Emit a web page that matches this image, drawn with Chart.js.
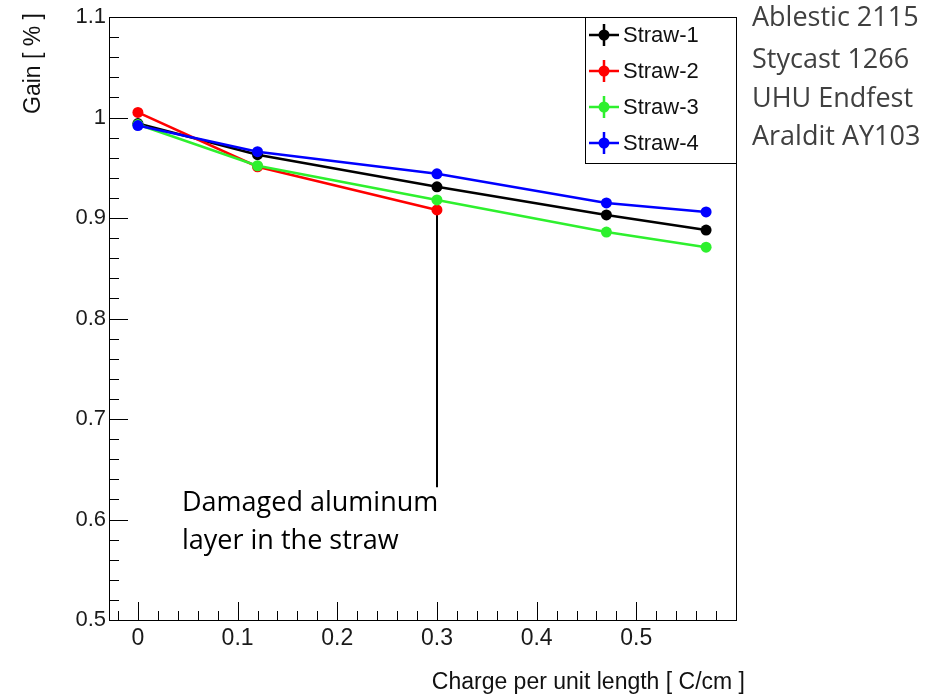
<!DOCTYPE html>
<html>
<head>
<meta charset="utf-8">
<script src="https://cdn.jsdelivr.net/npm/chart.js@4/dist/chart.umd.min.js"></script>
<style>
  html, body { margin: 0; padding: 0; background: #fff; }
  #wrap { width: 933px; height: 695px; }
</style>
</head>
<body>
<div id="wrap"><canvas id="chart" width="933" height="695"></canvas></div>
<script>
// charge per unit length [C/cm]
const charge = [0, 0.12, 0.3, 0.47, 0.57];

// relative gain per straw
const straw1 = [0.994, 0.963, 0.931, 0.903, 0.888];
const straw2 = [1.005, 0.951, 0.908];
const straw3 = [0.993, 0.952, 0.918, 0.886, 0.871];
const straw4 = [0.992, 0.966, 0.944, 0.915, 0.906];

const strawNames = ['Straw-1', 'Straw-2', 'Straw-3', 'Straw-4'];
const strawColors = ['#000000', '#ff0000', '#2ef02e', '#0000ff'];
const glueNames = ['Ablestic 2115', 'Stycast 1266', 'UHU Endfest', 'Araldit AY103'];

const xTicks = [0, 0.1, 0.2, 0.3, 0.4, 0.5];
const yTicks = [0.5, 0.6, 0.7, 0.8, 0.9, 1.0, 1.1];

// marker line down from the damaged straw point
const damageX = 0.3;
const damageEnd = 0.632;

const toPoints = vals => vals.map((v, i) => ({ x: charge[i], y: v }));

const datasets = [straw1, straw2, straw3, straw4].map((vals, i) => ({
  label: strawNames[i],
  data: toPoints(vals),
  borderColor: strawColors[i],
  backgroundColor: strawColors[i],
  borderWidth: 2.5,
  pointRadius: 5.5,
  pointHoverRadius: 5.5,
  pointBorderWidth: 0,
  tension: 0,
  order: 3 - i
}));

const rootStyle = {
  id: 'rootStyle',
  beforeDatasetsDraw(chart) {
    const { ctx, scales: { x, y } } = chart;
    ctx.save();
    ctx.strokeStyle = '#000';
    ctx.lineWidth = 2;
    const px = Math.round(x.getPixelForValue(damageX));
    ctx.beginPath();
    ctx.moveTo(px, y.getPixelForValue(straw2[2]));
    ctx.lineTo(px, y.getPixelForValue(damageEnd));
    ctx.stroke();
    ctx.restore();
  },
  afterDraw(chart) {
    const { ctx, chartArea: a, scales: { x, y } } = chart;
    ctx.save();
    ctx.strokeStyle = '#000';
    ctx.lineWidth = 1;
    ctx.strokeRect(a.left + 0.5, a.top + 0.5, a.right - a.left, a.bottom - a.top);

    // inward ticks, long on the labelled values
    ctx.beginPath();
    for (let i = 0; i <= 30; i++) {
      const v = 0.5 + i * 0.02;
      const major = i % 5 === 0;
      const py = Math.round(y.getPixelForValue(v)) + 0.5;
      ctx.moveTo(a.left, py);
      ctx.lineTo(a.left + (major ? 19 : 10), py);
    }
    for (let i = -1; i <= 29; i++) {
      const v = i * 0.02;
      const major = i % 5 === 0;
      const px = Math.round(x.getPixelForValue(v)) + 0.5;
      if (px < a.left || px > a.right) continue;
      ctx.moveTo(px, a.bottom);
      ctx.lineTo(px, a.bottom - (major ? 18 : 9));
    }
    ctx.stroke();

    // axis titles
    ctx.fillStyle = '#111';
    ctx.font = '23px "Liberation Sans", Arial, sans-serif';
    ctx.textAlign = 'right';
    ctx.textBaseline = 'middle';
    ctx.fillText('Charge per unit length [ C/cm ]', 745, 683);
    ctx.save();
    ctx.translate(34, 13);
    ctx.rotate(-Math.PI / 2);
    ctx.textAlign = 'right';
    ctx.fillText('Gain [ % ]', 0, 0);
    ctx.restore();

    // legend box
    const lx = 585, ly = 17, lw = 151, lh = 146;
    ctx.fillStyle = '#fff';
    ctx.fillRect(lx, ly, lw, lh);
    ctx.strokeRect(lx + 0.5, ly + 0.5, lw, lh);
    ctx.font = '22px "Liberation Sans", Arial, sans-serif';
    ctx.textAlign = 'left';
    strawNames.forEach((name, i) => {
      const cy = 35 + i * 36;
      const cx = 604;
      ctx.strokeStyle = strawColors[i];
      ctx.fillStyle = strawColors[i];
      ctx.lineWidth = 2.5;
      ctx.beginPath();
      ctx.moveTo(589, cy); ctx.lineTo(619, cy);
      ctx.moveTo(cx, cy - 11); ctx.lineTo(cx, cy + 11);
      ctx.stroke();
      ctx.beginPath();
      ctx.arc(cx, cy, 5.5, 0, Math.PI * 2);
      ctx.fill();
      ctx.fillStyle = '#111';
      ctx.fillText(name, 623, cy + 1);
    });

    // glue types next to the legend
    ctx.fillStyle = '#404040';
    ctx.font = '27px "Open Sans", sans-serif';
    const glueY = [18, 60, 99, 137];
    glueNames.forEach((g, i) => ctx.fillText(g, 752, glueY[i]));

    // note on the damaged straw
    ctx.fillStyle = '#000';
    ctx.fillText('Damaged aluminum', 182, 503);
    ctx.fillText('layer in the straw', 182, 541);
    ctx.restore();
  }
};

new Chart(document.getElementById('chart'), {
  type: 'line',
  data: { datasets },
  options: {
    responsive: false,
    animation: false,
    layout: { padding: { left: 0, top: 17, right: 197, bottom: 0 } },
    plugins: { legend: { display: false }, tooltip: { enabled: false } },
    scales: {
      x: {
        type: 'linear',
        min: -0.029,
        max: 0.6,
        afterBuildTicks: s => { s.ticks = xTicks.map(v => ({ value: v })); },
        afterFit: s => { s.height = 75; },
        grid: { display: false, drawTicks: false },
        border: { display: false },
        ticks: {
          padding: 5,
          color: '#1a1a1a',
          font: { family: '"Liberation Sans", Arial, sans-serif', size: 23 },
          callback: v => String(+v.toFixed(1)),
          maxRotation: 0
        }
      },
      y: {
        min: 0.5,
        max: 1.1,
        afterBuildTicks: s => { s.ticks = yTicks.map(v => ({ value: v })); },
        afterFit: s => { s.width = 109; },
        grid: { display: false, drawTicks: false },
        border: { display: false },
        ticks: {
          padding: 3,
          color: '#1a1a1a',
          font: { family: '"Liberation Sans", Arial, sans-serif', size: 22 },
          callback: v => String(+v.toFixed(1))
        }
      }
    }
  },
  plugins: [rootStyle]
});
</script>
</body>
</html>
